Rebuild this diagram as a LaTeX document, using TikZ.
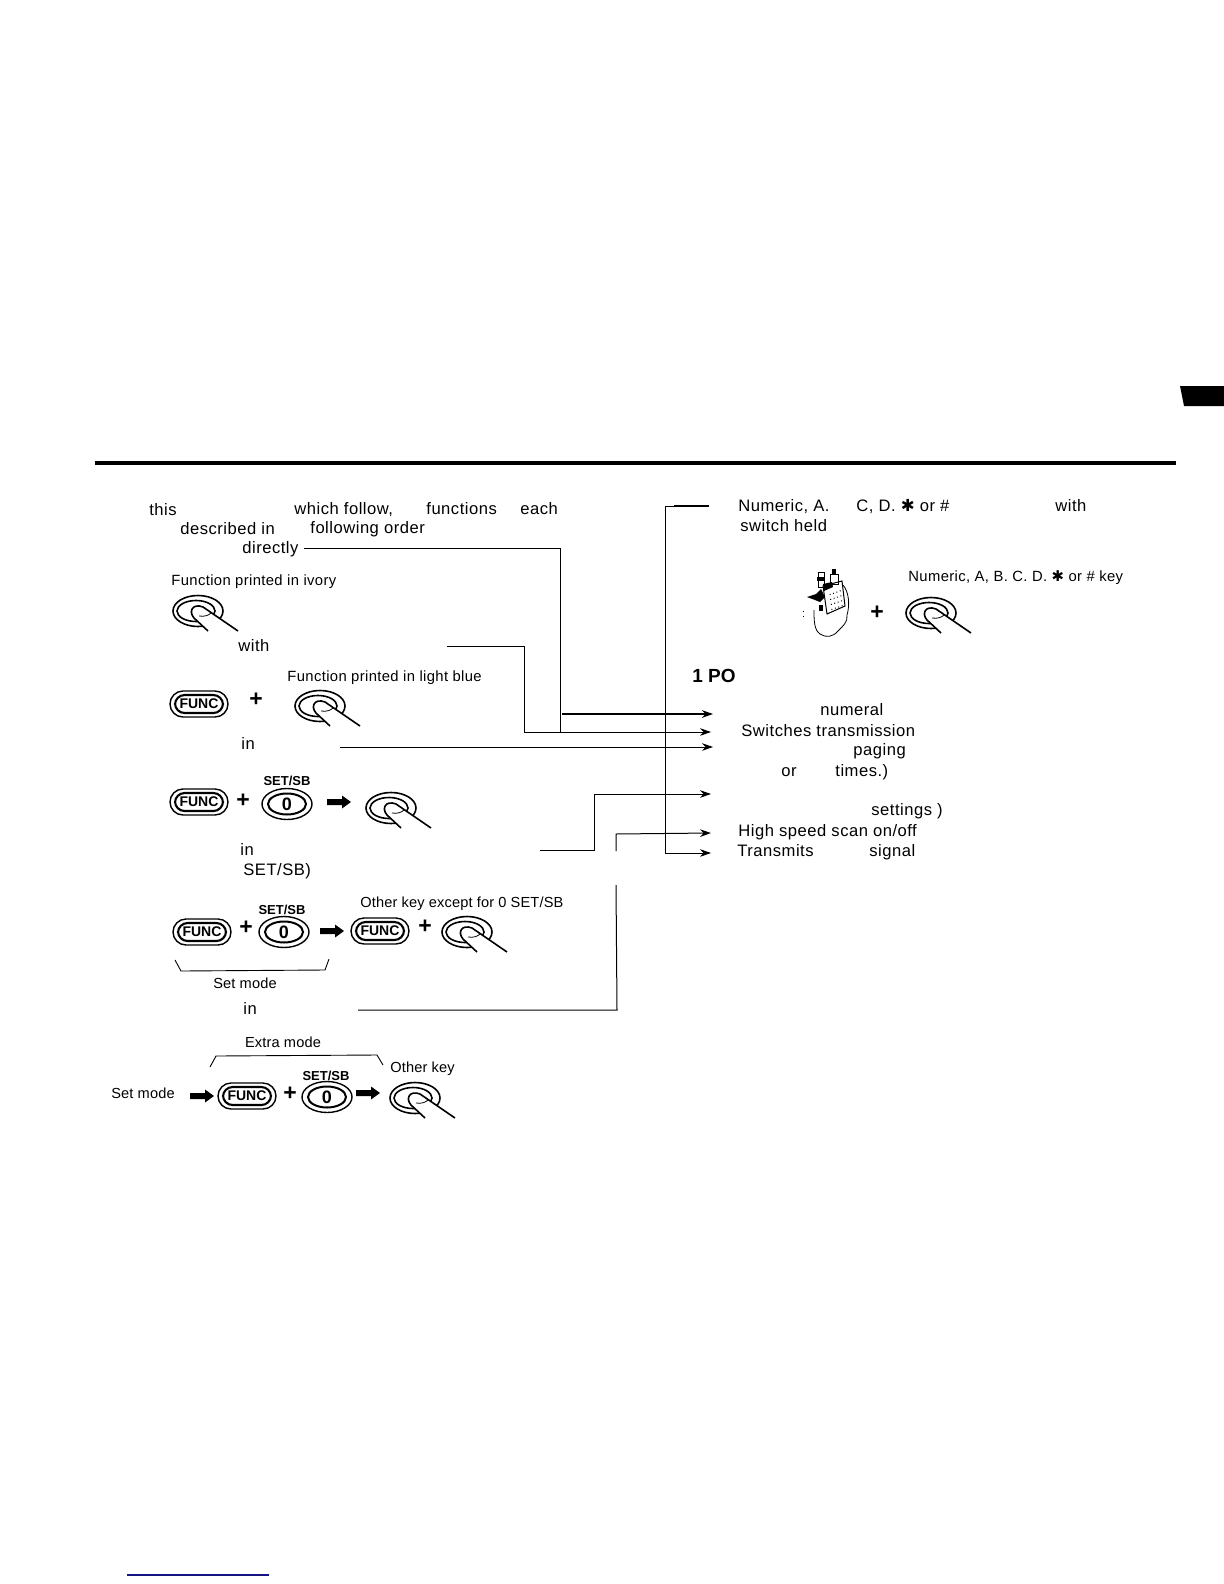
\documentclass[tikz,border=0pt]{standalone}
\usepackage{fontspec}
\setmainfont{Liberation Sans}
\newfontfamily\symfont{DejaVu Sans}
\usetikzlibrary{arrows.meta,calc}
\tikzset{
  body/.style={anchor=base west,inner sep=0pt,font=\fontsize{8.3}{10}\selectfont\addfontfeature{LetterSpace=3}},
  small/.style={anchor=base west,inner sep=0pt,font=\fontsize{7.4}{9}\selectfont\addfontfeature{LetterSpace=2.5}},
  smalltight/.style={anchor=base west,inner sep=0pt,font=\fontsize{7.3}{9}\selectfont\addfontfeature{LetterSpace=1}},
  smallc/.style={anchor=base,inner sep=0pt,font=\fontsize{7.3}{9}\selectfont\addfontfeature{LetterSpace=1}},
  keylab/.style={inner sep=0pt,font=\fontsize{6.5}{8}\bfseries\selectfont},
  plusmark/.style={inner sep=0pt,font=\fontsize{11.5}{12}\bfseries\selectfont},
  conn/.style={line width=0.5pt,line join=miter},
  arrowconn/.style={conn,-{Stealth[length=5.5pt,width=3.8pt]}},
  bracket/.style={line width=0.45pt},
  fingerkey/.pic={
    \draw[line width=0.8pt] (0,0) ellipse [x radius=25,y radius=15.5];
    \draw[line width=0.8pt] (-2,0) ellipse [x radius=19,y radius=10.5];
    \path[fill=white] (-4,7) .. controls (-10,0) and (-5,-8) .. (5,-4) -- (40,20) -- (10,20) -- cycle;
    \draw[line width=0.8pt] (10,20) -- (-4,7) .. controls (-10,0) and (-5,-8) .. (5,-4) -- (40,20);
    \draw[line width=0.4pt] (1,5) .. controls (7,6) and (11,4) .. (13,2);
  },
  funckey/.pic={
    \draw[line width=0.7pt,rounded corners=6.5pt] (-29,-13) rectangle (29,13);
    \draw[line width=1.05pt,rounded corners=4.8pt] (-24,-9) rectangle (24,9);
    \node[inner sep=0pt,font=\fontsize{7}{8}\bfseries\selectfont] (t) at (0,0) {FUNC};
  },
  zerokey/.pic={
    \draw[line width=0.7pt] (0,0) ellipse [x radius=25,y radius=15.5];
    \draw[line width=1pt] (0,0) ellipse [x radius=19,y radius=10.5];
    \node[inner sep=0pt,font=\fontsize{9}{10}\bfseries\selectfont] (t) at (0,0) {0};
  },
  blockarrow/.pic={
    \fill (-12,-3) -- (3,-3) -- (3,-6.5) -- (12,0) -- (3,6.5) -- (3,3) -- (-12,3) -- cycle;
  },
}
\begin{document}
\begin{tikzpicture}[x=0.5pt,y=-0.5pt]
\useasboundingbox (0,0) rectangle (1224,1584);
\fill[white] (0,0) rectangle (1224,1584);
% page marks
\fill[black] (1180,386) -- (1224,386) -- (1224,406) -- (1184,406) -- cycle;
\fill[black] (95,461) rectangle (1176,465);
\draw[color={rgb,255:red,20;green,20;blue,130},line width=0.6pt] (127,1575) -- (269,1575);
% left texts
\node[body] (t1a) at (149,515) {this};
\node[body] (t1b) at (294,514) {which follow,};
\node[body] (t1c) at (426,514) {functions};
\node[body] (t1d) at (520,514) {each};
\node[body] (t2a) at (180,534) {described in};
\node[body] (t2b) at (310,533) {following order};
\node[body] (t3) at (242,553) {directly};
\node[small] (fivory) at (171,585) {Function printed in ivory};
\node[body] (twith) at (238,651) {with};
\node[small] (fblue) at (287,681) {Function printed in light blue};
\node[body] (tin1) at (241,749) {in};
\node[body] (tin2) at (240,855) {in};
\node[body] (tset) at (243,875) {SET/SB)};
\node[smalltight] (fother) at (360,907) {Other key except for 0 SET/SB};
\node[smallc] (tsetm1) at (245,988) {Set mode};
\node[body] (tin3) at (243,1014) {in};
\node[smallc] (textra) at (283,1047) {Extra mode};
\node[smalltight] (tokey) at (390,1072) {Other key};
\node[smallc] (tsetm2) at (143,1098) {Set mode};
% keys
\pic (k1) at (198,611) {fingerkey};
\pic (k2) at (199,704) {funckey};
\node[plusmark] (p1) at (256,700) {+};
\pic (k3) at (320,706) {fingerkey};
\pic (k4) at (199,802) {funckey};
\node[plusmark] (p2) at (243,801) {+};
\pic (k5) at (287,804) {zerokey};
\node[keylab] (s1) at (287,781) {SET/SB};
\pic (a1) at (339,802) {blockarrow};
\pic (k6) at (391,808) {fingerkey};
\pic (k7) at (202,932) {funckey};
\node[plusmark] (p3) at (246,928) {+};
\pic (k8) at (284,932) {zerokey};
\node[keylab] (s2) at (282,910) {SET/SB};
\pic (a2) at (332,931) {blockarrow};
\pic (k9) at (380,931) {funckey};
\node[plusmark] (p4) at (425,927) {+};
\pic (k10) at (467,932) {fingerkey};
\draw[bracket] (175,960) -- (181,971) -- (325,970) -- (329,959);
\draw[bracket] (210,1067) -- (216,1056) -- (377,1055) -- (383,1065);
\pic (a3) at (202,1096) {blockarrow};
\pic (k11) at (247,1096) {funckey};
\node[plusmark] (p5) at (290,1094) {+};
\pic (k12) at (327,1097) {zerokey};
\node[keylab] (s3) at (326,1076) {SET/SB};
\pic (a4) at (368,1093) {blockarrow};
\pic (k13) at (415,1098) {fingerkey};
% right texts
\node[body] (r1a) at (738,511) {Numeric, A.};
\node[body] (r1b) at (856,511) {C, D. {\symfont ✱} or \#};
\node[body] (r1c) at (1055,511) {with};
\node[body] (r2) at (740,531) {switch held};
\node[small] (rnum) at (908,581) {Numeric, A, B. C. D. {\symfont ✱} or \# key};
\node[anchor=base west,inner sep=0pt,font=\fontsize{9.5}{11}\bfseries\selectfont] (rpo) at (692,682) {1 PO};
\node[body] (r3) at (820,715) {numeral};
\node[body] (r4) at (741,736) {Switches transmission};
\node[body] (r5) at (853,755) {paging};
\node[body] (r6a) at (781,776) {or};
\node[body] (r6b) at (835,776) {times.)};
\node[body] (r7) at (871,815) {settings )};
\node[body] (r8) at (738,836) {High speed scan on/off};
\node[body] (r9a) at (737,856) {Transmits};
\node[body] (r9b) at (869,856) {signal};
\pic (k14) at (931,613) {fingerkey};
\node[plusmark] (p6) at (877,613) {+};
% radio in hand
\draw[line width=0.4pt] (814,610) .. controls (814,620) and (814,630) .. (820,634) .. controls (826,638) and (833,637) .. (838,631) .. controls (843,626) and (848,622) .. (847,615) .. controls (850,605) and (849,592) .. (843,585);
\draw[line width=0.4pt,dotted] (803,611) -- (803,618);
\draw[line width=0.5pt] (823,586) -- (842,581) -- (845,606) -- (827,614) -- cycle;
\draw[line width=0.5pt] (818,572) rectangle (824,587);
\draw[line width=0.5pt] (830,574) rectangle (838,584);
\fill (817,577) rectangle (825,581);
\fill (832,569) rectangle (836,574);
\fill (823,584) -- (832,582) -- (833,587) -- (824,591) -- cycle;
\fill (807,597) -- (816,594) -- (821,589) -- (825,597) -- (820,602) -- (815,600) -- cycle;
\fill (819,605) rectangle (823,611);
\foreach \i in {0,1,2,3} \draw[line width=0.5pt,dotted] (830+\i*3.4,594-\i*1.2) -- (832+\i*3.4,610-\i*1.2);
% connector anchors
\coordinate (c1s) at (304,548);
\coordinate (c1c) at (560,548);
\coordinate (c1j) at (560,732);
\coordinate (c2s) at (447,646);
\coordinate (c2c) at (524,646);
\coordinate (c2d) at (524,732);
\coordinate (c2e) at (711,732);
\coordinate (c3s) at (562,714);
\coordinate (c3e) at (713,714);
\coordinate (c4s) at (340,747);
\coordinate (c4e) at (713,747);
\coordinate (c5s) at (540,850);
\coordinate (c5c) at (594,850);
\coordinate (c5d) at (594,794);
\coordinate (c5e) at (711,794);
\coordinate (c6s) at (616,851);
\coordinate (c6c) at (616,834);
\coordinate (c6e) at (711,833);
\coordinate (c7s) at (709,506);
\coordinate (c7c) at (665,506);
\coordinate (c7d) at (665,853);
\coordinate (c7e) at (711,853);
\coordinate (c8s) at (358,1010);
\coordinate (c8c) at (617,1010);
\coordinate (c8e) at (616,885);
% connectors
\draw[conn] (c1s) -- (c1c) -- (c1j);
\draw[arrowconn] (c2s) -- (c2c) -- (c2d) -- (c2e);
\draw[arrowconn,line width=0.9pt] (c3s) -- (c3e);
\draw[arrowconn] (c4s) -- (c4e);
\draw[arrowconn] (c5s) -- (c5c) -- (c5d) -- (c5e);
\draw[arrowconn] (c6s) -- (c6c) -- (c6e);
\draw[arrowconn] (c7s) -- (c7c) -- (c7d) -- (c7e);
\draw[conn,line width=0.9pt] (c7s) -- ($(c7s)!0.8!(c7c)$);
\draw[conn] (c8s) -- (c8c) -- (c8e);
\end{tikzpicture}
\end{document}
